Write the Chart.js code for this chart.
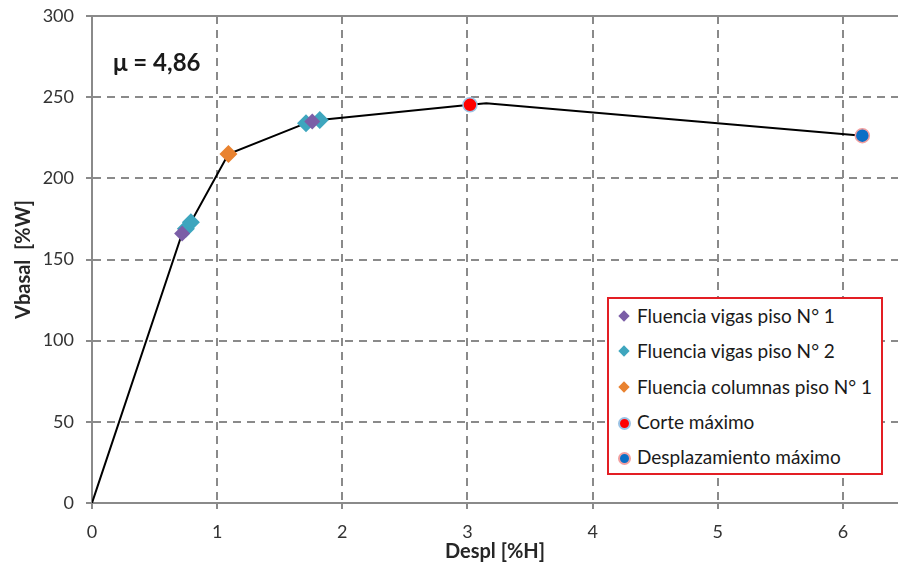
<!DOCTYPE html>
<html>
<head>
<meta charset="utf-8">
<script src="https://cdn.jsdelivr.net/npm/chart.js@4.4.1/dist/chart.umd.min.js"></script>
<style>
  body { margin: 0; background: #fff; }
  #wrap { position: relative; width: 898px; height: 570px; }
  #mu {
    position: absolute; left: 113px; top: 47px;
    font: bold 24px Lato, sans-serif; color: #1a1a1a;
  }
  #legend {
    position: absolute; left: 607px; top: 297px;
    width: 272px; height: 174px;
    border: 2px solid #e31e24; background: #fff;
    font: 19px Lato, sans-serif; color: #1a1a1a;
  }
  .row { position: absolute; left: 0; height: 22px; line-height: 22px; white-space: nowrap; }
  .row span.txt { position: absolute; left: 28px; top: 0; }
  .dia { position: absolute; left: 11px; top: 7px; width: 8px; height: 8px; transform: rotate(45deg); }
  .dot { position: absolute; left: 9px; top: 6px; width: 9px; height: 9px; border-radius: 50%; border: 2px solid; }
</style>
</head>
<body>
<div id="wrap">
  <canvas id="chart" width="898" height="570"></canvas>
  <div id="mu">μ = 4,86</div>
  <div id="legend"></div>
</div>
<script>
/*************************
 DATA
**************************/
const curveX = [0, 0.72, 0.75, 0.79, 1.09, 1.71, 1.76, 1.82, 3.02, 3.15, 6.155];
const curveY = [0, 166, 169, 173, 215, 234, 235, 236, 245.3, 246.2, 226.3];

const vigas1X = [0.72, 1.76];
const vigas1Y = [166, 235];

const vigas2X = [0.75, 0.79, 1.71, 1.82];
const vigas2Y = [169, 173, 234, 236];

const columnasX = [1.09];
const columnasY = [215];

const corteX = [3.02];
const corteY = [245.3];

const desplX = [6.155];
const desplY = [226.3];

const xTicks = [0, 1, 2, 3, 4, 5, 6];
const yTicks = [0, 50, 100, 150, 200, 250, 300];

const legendLabels = [
  "Fluencia vigas piso N° 1",
  "Fluencia vigas piso N° 2",
  "Fluencia columnas piso N° 1",
  "Corte máximo",
  "Desplazamiento máximo"
];

function toPoints(xs, ys) {
  return xs.map((x, i) => ({ x: x, y: ys[i] }));
}

/*************************
 CHART
**************************/
const GRID = "#8a8a8a";
const TICK_FONT = { family: "Lato", size: 18 };
const TITLE_FONT = { family: "Lato", size: 20, weight: "bold" };

const markerSets = [
  { label: legendLabels[0], data: toPoints(vigas1X, vigas1Y), pointStyle: "rectRot", pointRadius: 8,
    backgroundColor: "#7b5ea7", borderColor: "#7b5ea7" },
  { label: legendLabels[1], data: toPoints(vigas2X, vigas2Y), pointStyle: "rectRot", pointRadius: 9,
    backgroundColor: "#3ea6be", borderColor: "#3ea6be" },
  { label: legendLabels[2], data: toPoints(columnasX, columnasY), pointStyle: "rectRot", pointRadius: 9,
    backgroundColor: "#e9822f", borderColor: "#e9822f" },
  { label: legendLabels[3], data: toPoints(corteX, corteY), pointStyle: "circle", pointRadius: 7,
    backgroundColor: "#ff0000", borderColor: "#9cc3e5", pointBorderWidth: 1.5 },
  { label: legendLabels[4], data: toPoints(desplX, desplY), pointStyle: "circle", pointRadius: 7,
    backgroundColor: "#0b6fc6", borderColor: "#f2a0a0", pointBorderWidth: 1.5 }
];

const datasets = markerSets.map(s => ({
  type: "scatter",
  label: s.label,
  data: s.data,
  pointStyle: s.pointStyle,
  pointRadius: s.pointRadius,
  pointBackgroundColor: s.backgroundColor,
  pointBorderColor: s.borderColor,
  pointBorderWidth: s.pointBorderWidth || 0,
  showLine: false
}));

datasets.push({
  type: "scatter",
  label: "curva",
  data: toPoints(curveX, curveY),
  showLine: true,
  borderColor: "#000",
  borderWidth: 2,
  pointRadius: 0,
  tension: 0
});

const chart = new Chart(document.getElementById("chart"), {
  type: "scatter",
  data: { datasets: datasets },
  options: {
    responsive: false,
    animation: false,
    layout: { autoPadding: false, padding: { top: 16, right: 0, left: 0, bottom: 0 } },
    plugins: { legend: { display: false }, tooltip: { enabled: false } },
    scales: {
      x: {
        type: "linear",
        min: 0,
        max: 6.44,
        afterBuildTicks: s => { s.ticks = xTicks.map(v => ({ value: v })); },
        afterFit: s => { s.height = 67; s.paddingLeft = 0; s.paddingRight = 0; },
        ticks: { font: TICK_FONT, color: "#333", padding: 12, maxRotation: 0 },
        grid: { color: GRID, lineWidth: 2, tickLength: 6, tickColor: GRID },
        border: { color: GRID, width: 2, dash: [8, 6] },
        title: { display: true, text: "Despl [%H]", color: "#262626",
                 font: TITLE_FONT, padding: { top: 0, bottom: 6 } }
      },
      xTop: {
        type: "linear",
        position: "top",
        min: 0,
        max: 6.44,
        ticks: { display: false },
        grid: { display: false, drawTicks: false },
        border: { color: GRID, width: 2 },
        afterFit: s => { s.height = 0; s.paddingLeft = 0; s.paddingRight = 0; }
      },
      y: {
        type: "linear",
        min: 0,
        max: 300,
        afterBuildTicks: s => { s.ticks = yTicks.map(v => ({ value: v })); },
        afterFit: s => { s.width = 92; s.paddingTop = 0; s.paddingBottom = 0; },
        ticks: { font: TICK_FONT, color: "#333", padding: 12 },
        grid: { color: GRID, lineWidth: 2, tickLength: 6, tickColor: GRID },
        border: { color: GRID, width: 2, dash: [8, 6] },
        title: { display: true, text: "Vbasal  [%W]", color: "#262626",
                 font: TITLE_FONT, padding: { top: 12, bottom: 0 } }
      }
    }
  }
});

/*************************
 LEGEND (HTML)
**************************/
const legendEl = document.getElementById("legend");
markerSets.forEach((s, i) => {
  const row = document.createElement("div");
  row.className = "row";
  row.style.top = (6 + i * 35.3) + "px";
  row.style.width = "100%";
  const mark = document.createElement("span");
  if (s.pointStyle === "rectRot") {
    mark.className = "dia";
    mark.style.background = s.backgroundColor;
  } else {
    mark.className = "dot";
    mark.style.background = s.backgroundColor;
    mark.style.borderColor = s.borderColor;
  }
  const txt = document.createElement("span");
  txt.className = "txt";
  txt.textContent = s.label;
  row.appendChild(mark);
  row.appendChild(txt);
  legendEl.appendChild(row);
});
</script>
</body>
</html>
